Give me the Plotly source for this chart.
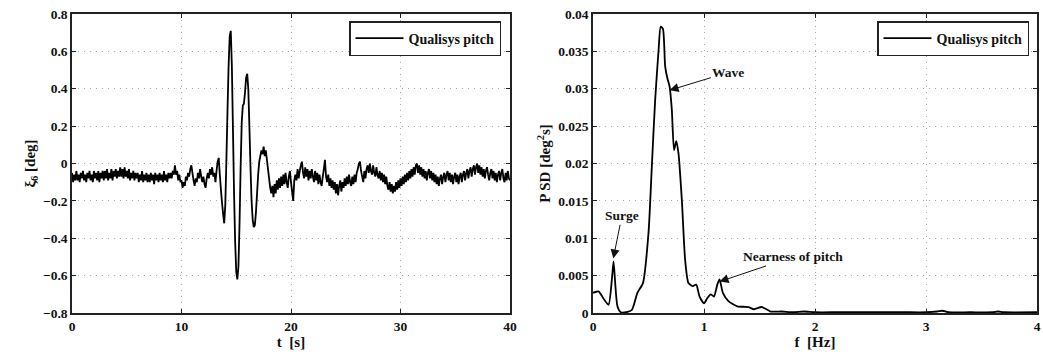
import numpy as np
import plotly.graph_objects as go

# ---- pitch time series (deg), sampled every 0.1 s from 0 to 40 s ----
dt = 0.1
pitch = [
    # 0 s
    -0.05, -0.10, -0.06, -0.09, -0.04, -0.09, -0.06, -0.10, -0.05, -0.08,
    -0.04, -0.09, -0.06, -0.10, -0.05, -0.08, -0.04, -0.09, -0.06, -0.10,
    -0.04, -0.08, -0.05, -0.09, -0.04, -0.10, -0.05, -0.08, -0.04, -0.09,
    -0.04, -0.08, -0.03, -0.09, -0.05, -0.08, -0.03, -0.09, -0.04, -0.07,
    -0.03, -0.08, -0.04, -0.07, -0.02, -0.07, -0.03, -0.08, -0.02, -0.07,
    -0.04, -0.08, -0.03, -0.09, -0.05, -0.08, -0.04, -0.09, -0.05, -0.08,
    -0.05, -0.10, -0.06, -0.09, -0.04, -0.10, -0.06, -0.09, -0.05, -0.10,
    -0.06, -0.10, -0.05, -0.09, -0.06, -0.11, -0.05, -0.09, -0.06, -0.10,
    -0.05, -0.09, -0.06, -0.10, -0.04, -0.09, -0.06, -0.10, -0.05, -0.08,
    -0.05, -0.08, -0.04, -0.06, -0.01, -0.06, -0.04, -0.09, -0.06, -0.10,
    # 10 s
    -0.09, -0.13, -0.10, -0.12, -0.07, -0.09, -0.05, -0.07, -0.03, -0.01,
    -0.05, -0.09, -0.12, -0.08, -0.10, -0.05, -0.08, -0.03, -0.07, -0.10,
    -0.07, -0.11, -0.13, -0.08, -0.05, -0.08, -0.03, -0.06, -0.02, -0.07,
    -0.05, -0.10, -0.04, 0.01, 0.03, -0.06, -0.14, -0.21, -0.27, -0.32,
    -0.22, 0.02, 0.28, 0.52, 0.68, 0.71, 0.52, 0.18, -0.16, -0.42,
    -0.58, -0.62, -0.55, -0.32, -0.02, 0.22, 0.31, 0.32, 0.38, 0.46,
    0.48, 0.40, 0.20, -0.02, -0.20, -0.30, -0.34, -0.33, -0.26, -0.16,
    -0.06, 0.01, 0.04, 0.07, 0.05, 0.09, 0.04, 0.07, 0.02, -0.03,
    -0.08, -0.13, -0.16, -0.12, -0.18, -0.11, -0.16, -0.09, -0.14, -0.08,
    -0.13, -0.07, -0.12, -0.06, -0.11, -0.05, -0.10, -0.13, -0.07, -0.04,
    # 20 s
    -0.10, -0.15, -0.20, -0.09, -0.06, -0.09, -0.03, -0.08, -0.04, -0.01,
    0.01, -0.05, -0.08, -0.02, -0.07, -0.03, -0.09, -0.04, -0.08, -0.03,
    -0.07, -0.10, -0.04, -0.09, -0.05, -0.11, -0.06, -0.10, -0.12, -0.07,
    -0.03, 0.02, -0.07, -0.10, -0.06, -0.12, -0.08, -0.13, -0.09, -0.14,
    -0.10, -0.16, -0.11, -0.17, -0.12, -0.09, -0.15, -0.10, -0.13, -0.08,
    -0.12, -0.07, -0.11, -0.06, -0.10, -0.12, -0.07, -0.11, -0.06, -0.10,
    -0.05, -0.03, 0.00, 0.01, -0.04, -0.07, -0.10, -0.04, -0.08, -0.03,
    -0.01, -0.05, 0.00, -0.04, -0.06, -0.01, -0.05, -0.07, -0.02, -0.06,
    -0.08, -0.04, -0.09, -0.05, -0.10, -0.06, -0.11, -0.07, -0.12, -0.14,
    -0.10, -0.15, -0.11, -0.16, -0.12, -0.15, -0.10, -0.14, -0.09, -0.13,
    # 30 s
    -0.08, -0.12, -0.07, -0.11, -0.06, -0.10, -0.05, -0.09, -0.04, -0.08,
    -0.03, -0.07, -0.02, -0.06, -0.01, 0.00, -0.05, -0.01, -0.06, -0.02,
    -0.07, -0.03, -0.08, -0.04, -0.09, -0.05, -0.03, -0.08, -0.04, -0.09,
    -0.05, -0.10, -0.06, -0.11, -0.07, -0.12, -0.08, -0.06, -0.11, -0.07,
    -0.05, -0.10, -0.06, -0.04, -0.09, -0.05, -0.10, -0.06, -0.11, -0.07,
    -0.05, -0.10, -0.06, -0.11, -0.07, -0.05, -0.10, -0.06, -0.04, -0.09,
    -0.05, -0.03, -0.08, -0.04, -0.02, -0.07, -0.03, -0.01, -0.06, -0.02,
    0.00, -0.05, -0.01, -0.06, -0.02, -0.07, -0.03, -0.08, -0.04, -0.02,
    -0.06, -0.09, -0.05, -0.03, -0.08, -0.04, -0.09, -0.05, -0.10, -0.06,
    -0.04, -0.09, -0.05, -0.03, -0.08, -0.10, -0.05, -0.09, -0.04, -0.08,
    # 40 s
    -0.09,
]
time = np.arange(len(pitch)) * dt

# ---- power spectral density of pitch ----
freq = [0.00, 0.05, 0.10, 0.14, 0.17, 0.185, 0.20, 0.22, 0.25, 0.30, 0.35,
        0.40, 0.45, 0.50, 0.53, 0.56, 0.59, 0.61, 0.63, 0.65, 0.67, 0.69,
        0.71, 0.73, 0.75, 0.77, 0.80, 0.83, 0.86, 0.90, 0.93, 0.96, 1.00,
        1.03, 1.06, 1.09, 1.12, 1.14, 1.17, 1.22, 1.30, 1.40, 1.45, 1.52,
        1.60, 1.70, 1.80, 1.90, 2.00, 2.20, 2.50, 2.80, 3.00, 3.10, 3.15,
        3.20, 3.40, 3.60, 3.65, 3.70, 4.00]
psd = [0.0027, 0.0029, 0.0018, 0.0011, 0.0045, 0.0069, 0.0040, 0.0009,
       0.0001, 0.0001, 0.0004, 0.0027, 0.0040, 0.0107, 0.0196, 0.0285,
       0.0350, 0.0383, 0.0380, 0.0330, 0.0314, 0.0303, 0.0272, 0.0218,
       0.0230, 0.0214, 0.0152, 0.0071, 0.0040, 0.0036, 0.0038, 0.0022,
       0.0013, 0.0020, 0.0025, 0.0022, 0.0038, 0.0045, 0.0027, 0.0016,
       0.0009, 0.0008, 0.0005, 0.0008, 0.0002, 0.0002, 0.0001, 0.0002,
       0.0001, 0.0001, 0.0001, 0.0001, 0.0001, 0.0002, 0.0003, 0.0001,
       0.0001, 0.0001, 0.0002, 0.0001, 0.0001]

# ---- tick labels ----
t_ticks = [0, 10, 20, 30, 40]
pitch_ticks = [-0.8, -0.6, -0.4, -0.2, 0, 0.2, 0.4, 0.6, 0.8]
pitch_ticktext = ["\u22120.8", "\u22120.6", "\u22120.4", "\u22120.2", "0",
                  "0.2", "0.4", "0.6", "0.8"]
f_ticks = [0, 1, 2, 3, 4]
psd_ticks = [0, 0.005, 0.01, 0.015, 0.02, 0.025, 0.03, 0.035, 0.04]
psd_ticktext = ["0", "0.005", "0.01", "0.015", "0.02", "0.025", "0.03",
                "0.035", "0.04"]

# ---- peak labels: (text, tip f, tip psd, text f, text psd) ----
peak_labels = [
    ("Wave", 0.69, 0.0298, 1.22, 0.0322),
    ("Surge", 0.183, 0.0073, 0.26, 0.0130),
    ("Nearness of pitch", 1.14, 0.0042, 1.80, 0.0075),
]

W, H = 1043, 356
FONT = "Liberation Serif"
INK = "#111111"


def px_x(p):
    return p / W


def px_y(p):
    return 1 - p / H


def serif(size):
    return dict(family=FONT, size=size, color=INK, weight="bold")


fig = go.Figure()
fig.add_trace(go.Scatter(x=time, y=pitch, mode="lines", name="Qualisys pitch",
                         line=dict(color="black", width=1.8, simplify=False),
                         xaxis="x", yaxis="y", legend="legend"))
fig.add_trace(go.Scatter(x=freq, y=psd, mode="lines", name="Qualisys pitch",
                         line=dict(color="black", width=1.8, shape="spline",
                                   smoothing=0.6, simplify=False),
                         xaxis="x2", yaxis="y2", legend="legend2"))

axis_common = dict(
    showline=True, linecolor="#222", linewidth=1.5, mirror="ticks",
    ticks="inside", ticklen=4, tickcolor="#222", tickwidth=1.2,
    showgrid=True, gridcolor="#a8a8a8", griddash="1px,5px", gridwidth=1,
    zeroline=False, automargin=False,
    tickfont=serif(13.5),
    title_font=serif(15),
)

legend_common = dict(
    y=px_y(21), xanchor="right", yanchor="top",
    bordercolor="#222", borderwidth=1.5, bgcolor="white",
    font=serif(14), itemwidth=48, tracegroupgap=0,
)

fig.update_layout(
    width=W, height=H,
    margin=dict(l=0, r=0, t=0, b=0, autoexpand=False),
    paper_bgcolor="white", plot_bgcolor="white",
    font=dict(family=FONT, size=12, color=INK),
    xaxis=dict(domain=[px_x(72), px_x(510)], range=[0, 40],
               tickvals=t_ticks, anchor="y",
               title=dict(text="t  [s]", standoff=2), **axis_common),
    yaxis=dict(domain=[px_y(313), px_y(14)], range=[-0.8, 0.8],
               tickvals=pitch_ticks, ticktext=pitch_ticktext, anchor="x",
               title=dict(text="\u03be<sub>6</sub> [deg]", standoff=4),
               **axis_common),
    xaxis2=dict(domain=[px_x(593), px_x(1037)], range=[0, 4],
                tickvals=f_ticks, anchor="y2",
                title=dict(text="f  [Hz]", standoff=2), **axis_common),
    yaxis2=dict(domain=[px_y(313), px_y(14)], range=[0, 0.04],
                tickvals=psd_ticks, ticktext=psd_ticktext, anchor="x2",
                title=dict(text="P SD [deg<sup>2</sup>s]", standoff=4),
                **axis_common),
    legend=dict(x=px_x(501), **legend_common),
    legend2=dict(x=px_x(1029), **legend_common),
    showlegend=True,
)

for text, fx, fy, tx, ty in peak_labels:
    fig.add_annotation(x=fx, y=fy, xref="x2", yref="y2",
                       ax=tx, ay=ty, axref="x2", ayref="y2",
                       text=text, showarrow=True, arrowhead=2,
                       arrowsize=1.8, arrowwidth=1, arrowcolor="#111",
                       font=serif(13.5))

fig.write_html("out.html")
